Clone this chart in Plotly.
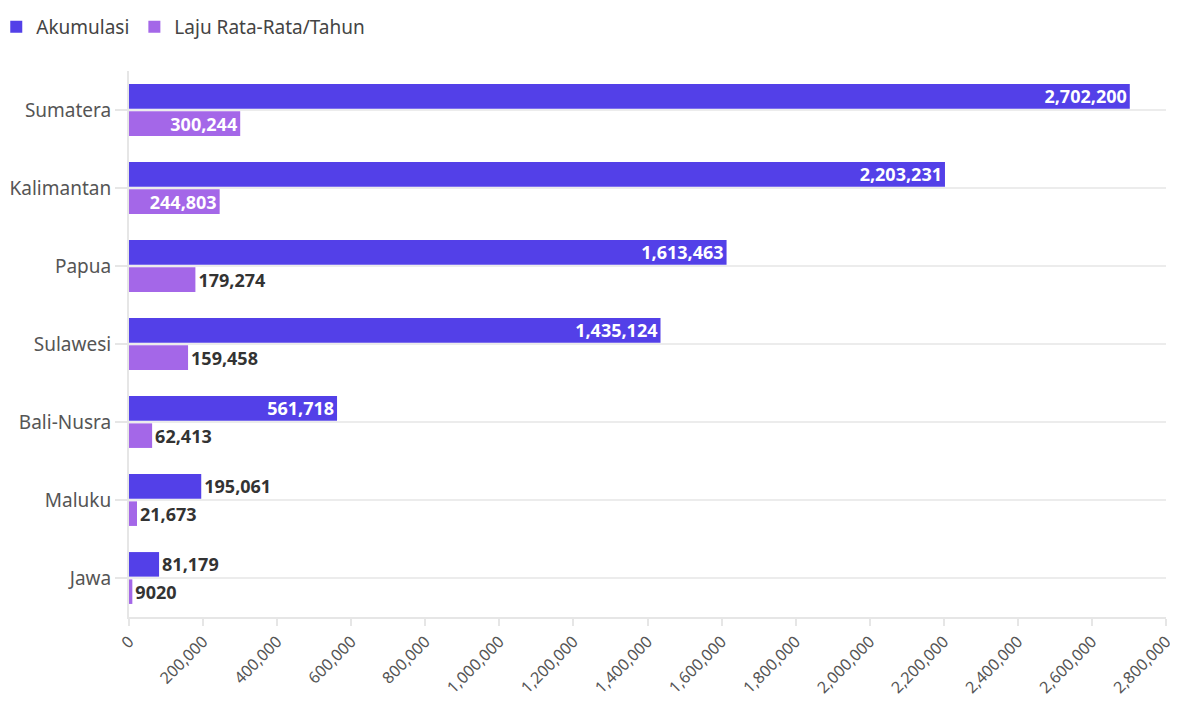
import plotly.graph_objects as go

# regional data
regions = ['Sumatera', 'Kalimantan', 'Papua', 'Sulawesi', 'Bali-Nusra', 'Maluku', 'Jawa']
akumulasi = [2702200, 2203231, 1613463, 1435124, 561718, 195061, 81179]
laju = [300244, 244803, 179274, 159458, 62413, 21673, 9020]

FONT = 'Noto Sans'
COLORS = {'Akumulasi': '#5340E8', 'Laju Rata-Rata/Tahun': '#A467E8'}


def labels(values):
    return [f'{v:,}' if v >= 10000 else str(v) for v in values]


def positions(values):
    # long bars carry their label inside, short ones just after the end
    return ['inside' if v > 220000 else 'outside' for v in values]


fig = go.Figure()
for name, vals in [('Akumulasi', akumulasi), ('Laju Rata-Rata/Tahun', laju)]:
    fig.add_trace(go.Bar(
        y=regions, x=vals, name=name, orientation='h',
        marker=dict(color=COLORS[name], line=dict(width=0)),
        text=labels(vals), textposition=positions(vals),
        insidetextanchor='end', constraintext='none', cliponaxis=False,
        insidetextfont=dict(family=FONT, size=18, color='white', weight='bold'),
        outsidetextfont=dict(family=FONT, size=18, color='#333333', weight='bold'),
    ))

# the page body adds an 8px margin, so the figure is offset to fit the window
fig.update_layout(
    width=1170, height=694,
    barmode='group', bargap=0.3, bargroupgap=0.1,
    plot_bgcolor='white', paper_bgcolor='white',
    font=dict(family=FONT, size=16, color='#555555'),
    margin=dict(l=121, r=12, t=63, b=85, autoexpand=False),
    showlegend=True,
    legend=dict(orientation='h', xref='paper', yref='container',
                x=-0.128, y=1.0, xanchor='left', yanchor='top',
                font=dict(size=19, color='#444444'), itemwidth=30,
                traceorder='normal'),
    uniformtext=dict(mode=False),
)
fig.update_xaxes(
    range=[0, 2800000], dtick=200000, tickformat=',d', tickangle=-45,
    showgrid=False, zeroline=False, automargin=False,
    ticklabeloverflow='allow',
    showline=True, linecolor='#e6e6e6', linewidth=2,
    ticks='outside', ticklen=7, tickcolor='#e6e6e6', tickwidth=2,
    tickfont=dict(size=16, color='#555555'),
)
fig.update_yaxes(
    autorange='reversed', showgrid=True, gridcolor='#ececec', gridwidth=2,
    automargin=False,
    showline=True, linecolor='#e6e6e6', linewidth=2,
    ticks='outside', ticklen=12, tickcolor='#e6e6e6', tickwidth=2,
    tickfont=dict(size=19, color='#555555'),
)

fig.write_html('out.html')
